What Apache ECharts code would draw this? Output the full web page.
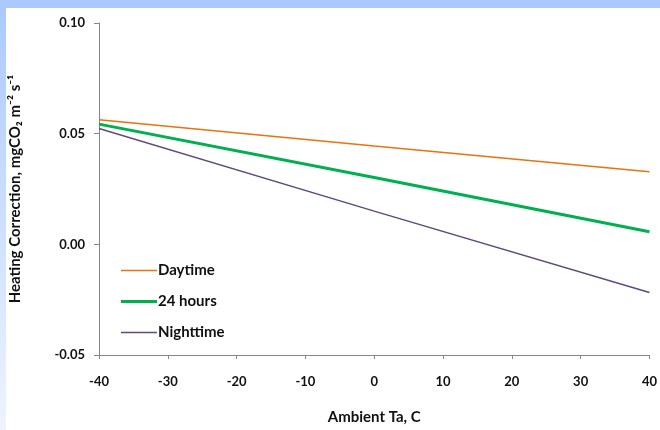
<!DOCTYPE html>
<html>
<head>
<meta charset="utf-8">
<script src="https://cdn.jsdelivr.net/npm/echarts@6/dist/echarts.min.js"></script>
<style>
  html, body { margin: 0; padding: 0; background: #fff; }
  #chart { width: 660px; height: 430px; }
</style>
</head>
<body>
<div id="chart"></div>
<script>
// data
var temps = [-40, 0, 40];
var daytime = [0.0563, 0.0444, 0.0328];
var allDay = [0.0543, 0.0302, 0.0057];
var nighttime = [0.0523, 0.0150, -0.0218];
var seriesNames = ['Daytime', '24 hours', 'Nighttime'];

function pairs(vals) {
    var out = [];
    for (var i = 0; i < temps.length; i++) {
        out.push([temps[i], vals[i]]);
    }
    return out;
}

var myChart = echarts.init(document.getElementById('chart'));
var font = 'Lato, "Open Sans", sans-serif';
var thinIcon = 'path://M0,0H36V1.5H0Z';
var thickIcon = 'path://M0,0H36V3H0Z';

var option = {
    animation: false,
    textStyle: { fontFamily: font },
    // blue frame on top and left edge
    graphic: [
        { type: 'rect', shape: { x: 0, y: 0, width: 660, height: 8 }, style: { fill: '#abc9fe' }, z: 100 },
        {
            type: 'rect', shape: { x: 0, y: 0, width: 6, height: 430 }, z: 100,
            style: {
                fill: new echarts.graphic.LinearGradient(0, 0, 0, 1, [
                    { offset: 0, color: '#abc9fe' },
                    { offset: 1, color: '#eef4fe' }
                ])
            }
        }
    ],
    grid: { left: 96, top: 23, right: 4, bottom: 75 },
    legend: {
        orient: 'vertical',
        left: 116,
        top: 255,
        itemWidth: 36,
        itemHeight: 18,
        itemGap: 10,
        symbolKeepAspect: true,
        textStyle: { color: '#111', fontSize: 15, fontWeight: 'bold', fontFamily: font, padding: [0, 0, 0, -4], lineHeight: 21 },
        data: [
            { name: seriesNames[0], icon: thinIcon },
            { name: seriesNames[1], icon: thickIcon },
            { name: seriesNames[2], icon: thinIcon }
        ]
    },
    xAxis: {
        type: 'value',
        min: -40, max: 40, interval: 10,
        name: 'Ambient Ta, C',
        nameLocation: 'middle',
        nameGap: 55,
        nameTextStyle: { color: '#111', fontSize: 15, fontWeight: 'bold' },
        axisLine: { onZero: false, lineStyle: { color: '#868686', width: 1 } },
        axisTick: { length: 4, lineStyle: { color: '#868686' } },
        axisLabel: { color: '#111', fontSize: 13, fontWeight: 'bold', margin: 20 },
        splitLine: { show: false }
    },
    yAxis: {
        type: 'value',
        min: -0.05, max: 0.1, interval: 0.05,
        name: 'Heating Correction, mgCO\u2082 m\u207B\u00B2 s\u207B\u00B9',
        nameLocation: 'middle',
        nameGap: 76,
        nameTextStyle: { color: '#111', fontSize: 15, fontWeight: 'bold' },
        axisLine: { show: true, onZero: false, lineStyle: { color: '#868686', width: 1 } },
        axisTick: { show: true, length: 5, lineStyle: { color: '#868686' } },
        axisLabel: {
            color: '#111', fontSize: 13, fontWeight: 'bold', margin: 14,
            formatter: function (v) { return v.toFixed(2); }
        },
        splitLine: { show: false }
    },
    series: [
        {
            name: seriesNames[0], type: 'line', symbol: 'none',
            lineStyle: { color: '#e8720c', width: 1.5 }, itemStyle: { color: '#e8720c' },
            data: pairs(daytime)
        },
        {
            name: seriesNames[1], type: 'line', symbol: 'none',
            lineStyle: { color: '#00b050', width: 3 }, itemStyle: { color: '#00b050' },
            data: pairs(allDay)
        },
        {
            name: seriesNames[2], type: 'line', symbol: 'none',
            lineStyle: { color: '#604a7b', width: 1.5 }, itemStyle: { color: '#604a7b' },
            data: pairs(nighttime)
        }
    ]
};

myChart.setOption(option);
</script>
</body>
</html>
